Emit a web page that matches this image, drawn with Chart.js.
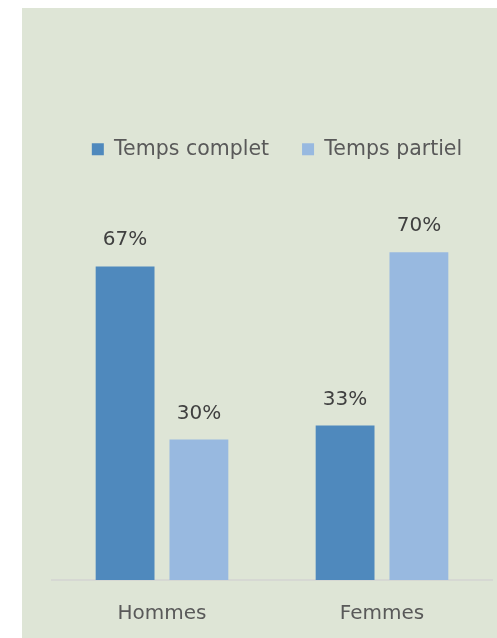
<!DOCTYPE html>
<html>
<head>
<meta charset="utf-8">
<script src="https://cdn.jsdelivr.net/npm/chart.js@4.4.1/dist/chart.umd.min.js"></script>
<style>
  body { margin: 0; background: #ffffff; }
  #box {
    position: absolute; left: 22px; top: 8px;
    width: 475px; height: 630px;
    background: rgb(222, 229, 214);
    overflow: hidden;
  }
</style>
</head>
<body>
<div id="box"><canvas id="tempsChart" width="475" height="640"></canvas></div>
<script>
const categories = ['Hommes', 'Femmes']
const tempsComplet = [67, 33]
const tempsPartiel = [30, 70]

const textFont = '"DejaVu Sans"'

// draw the % value above each bar
const valueLabels = {
    id: 'valueLabels',
    afterDatasetsDraw(chart) {
        const ctx = chart.ctx
        ctx.save()
        ctx.font = '20px ' + textFont
        ctx.fillStyle = '#404040'
        ctx.textAlign = 'center'
        ctx.textBaseline = 'alphabetic'
        chart.data.datasets.forEach((ds, i) => {
            chart.getDatasetMeta(i).data.forEach((bar, j) => {
                ctx.fillText(ds.data[j] + '%', bar.x, bar.y - 21)
            })
        })
        ctx.restore()
    }
}

// legend sits a bit right of the plot centre
const legendShift = {
    id: 'legendShift',
    afterLayout(chart) {
        chart.legend.left += 5
        chart.legend.right += 5
    }
}

new Chart('tempsChart', {
    type: 'bar',
    data: {
        labels: categories,
        datasets: [
            {
                label: 'Temps complet',
                data: tempsComplet,
                backgroundColor: '#4f89bd',
                barPercentage: 0.797,
                categoryPercentage: 0.671,
            },
            {
                label: 'Temps partiel',
                data: tempsPartiel,
                backgroundColor: '#98b9e0',
                barPercentage: 0.797,
                categoryPercentage: 0.671,
            },
        ]
    },
    options: {
        responsive: false,
        animation: false,
        layout: {
            padding: { left: 30, right: 5, top: 98, bottom: 0 }
        },
        plugins: {
            legend: {
                position: 'top',
                labels: {
                    boxWidth: 12,
                    boxHeight: 12,
                    padding: 33,
                    color: '#595959',
                    font: { family: textFont, size: 20.5 },
                },
            },
            tooltip: { enabled: false },
        },
        scales: {
            x: {
                grid: { display: false, drawTicks: false },
                border: { display: true, color: '#d6d8d3', width: 2 },
                ticks: {
                    color: '#595959',
                    padding: 22,
                    font: { family: textFont, size: 20 },
                },
            },
            y: {
                display: false,
                beginAtZero: true,
                min: 0,
                max: 87.7,
            },
        },
    },
    plugins: [valueLabels, legendShift],
})
</script>
</body>
</html>
